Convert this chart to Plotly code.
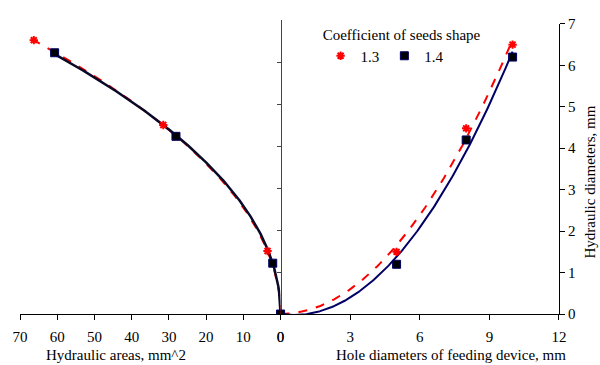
import numpy as np
import plotly.graph_objects as go

# ---- data ----
# Left panel: hydraulic area (mm^2) vs hydraulic diameter (mm)
area_13 = [0, 3.5, 31.5, 66.3]
hd_area_13 = [0, 1.50, 4.50, 6.52]
area_14 = [0, 2.1, 28.1, 60.7]
hd_area_14 = [0, 1.21, 4.23, 6.22]

# Right panel: hole diameter (mm) vs hydraulic diameter (mm)
hole = [0, 5, 8, 10]
hd_hole_13 = [0, 1.50, 4.48, 6.50]
hd_hole_14 = [0, 1.20, 4.20, 6.20]

left_ticks = [70, 60, 50, 40, 30, 20, 10, 0]
right_ticks = [0, 3, 6, 9, 12]
y_ticks = [0, 1, 2, 3, 4, 5, 6, 7]

RED = "#ff0000"
NAVY = "#000066"
DARK = "#0a0a28"
FONT = "Liberation Serif"


def power_fit(xs, ys):
    x = np.array(xs[1:], float)
    y = np.array(ys[1:], float)
    b, loga = np.polyfit(np.log(x), np.log(y), 1)
    a = np.exp(loga)
    xx = np.linspace(0, max(xs), 300)
    return xx, a * xx ** b


def quad_fit0(xs, ys):
    # polynomial trendline (order 2) with intercept fixed at 0
    x = np.array(xs, float)
    y = np.array(ys, float)
    A = np.vstack([x ** 2, x]).T
    (a, b), *_ = np.linalg.lstsq(A, y, rcond=None)
    xx = np.linspace(0, max(xs), 200)
    return xx, a * xx ** 2 + b * xx


fig = go.Figure()

# left panel trendlines
lx, ly = power_fit(area_13, hd_area_13)
fig.add_trace(go.Scatter(x=lx, y=ly, mode="lines", line=dict(color=RED, width=2, dash="dash"),
                         xaxis="x", yaxis="y", showlegend=False, hoverinfo="skip"))
lx, ly = power_fit(area_14, hd_area_14)
fig.add_trace(go.Scatter(x=lx, y=ly, mode="lines", line=dict(color=DARK, width=2.5),
                         xaxis="x", yaxis="y", showlegend=False, hoverinfo="skip"))

# right panel trendlines
rx, ry = quad_fit0(hole, hd_hole_13)
fig.add_trace(go.Scatter(x=rx, y=ry, mode="lines", line=dict(color=RED, width=2, dash="dash"),
                         xaxis="x2", yaxis="y2", showlegend=False, hoverinfo="skip"))
rx, ry = quad_fit0(hole, hd_hole_14)
fig.add_trace(go.Scatter(x=rx, y=ry, mode="lines", line=dict(color=NAVY, width=2),
                         xaxis="x2", yaxis="y2", showlegend=False, hoverinfo="skip"))

m13 = dict(symbol="asterisk-open", size=7, color=RED, line=dict(color=RED, width=2))
m14 = dict(symbol="square", size=8, color="#000000", line=dict(color=NAVY, width=1))

# markers left
fig.add_trace(go.Scatter(x=area_13, y=hd_area_13, mode="markers", marker=m13,
                         xaxis="x", yaxis="y", name="1.3", legendgroup="a"))
fig.add_trace(go.Scatter(x=area_14, y=hd_area_14, mode="markers", marker=m14,
                         xaxis="x", yaxis="y", name="1.4", legendgroup="b"))
# markers right
fig.add_trace(go.Scatter(x=hole, y=hd_hole_13, mode="markers", marker=m13,
                         xaxis="x2", yaxis="y2", name="1.3", showlegend=False, legendgroup="a"))
fig.add_trace(go.Scatter(x=hole, y=hd_hole_14, mode="markers", marker=m14,
                         xaxis="x2", yaxis="y2", name="1.4", showlegend=False, legendgroup="b"))

split = 262 / 542
axis_common = dict(showline=True, linecolor="#000000", linewidth=1, showgrid=False, zeroline=False,
                   ticks="outside", ticklen=5, tickcolor="#000000",
                   tickfont=dict(family=FONT, size=15, color="#000000"))

W, H = 600, 365
l, r, t, b = 17, 41, 14, 51
pw, ph = W - l - r, H - t - b


def ann(text, px, py, angle=0):
    return dict(text=text, x=(px - l) / pw, y=(H - b - py) / ph, xref="paper", yref="paper",
                xanchor="center", yanchor="middle", showarrow=False, textangle=angle,
                font=dict(family=FONT, size=15, color="#000000"))


fig.update_layout(
    width=W, height=H,
    margin=dict(l=l, r=r, t=t, b=b),
    plot_bgcolor="white", paper_bgcolor="white",
    font=dict(family=FONT, size=15, color="#000000"),
    xaxis=dict(domain=[0, split], range=[70, 0], tickvals=left_ticks, anchor="y",
               ticklabelstandoff=4, **axis_common),
    xaxis2=dict(domain=[split, 1], range=[0, 12], tickvals=right_ticks, anchor="y2",
                ticklabelstandoff=4, **axis_common),
    yaxis=dict(domain=[0, 1], range=[0, 7], tickvals=y_ticks, anchor="x", side="right",
               showline=True, linecolor="#444444", linewidth=1, showgrid=False, zeroline=False,
               ticks="inside", ticklen=4, tickcolor="#444444", showticklabels=False),
    yaxis2=dict(domain=[0, 296 / 300], range=[0, 7], tickvals=y_ticks, anchor="x2", side="right",
                **axis_common),
    legend=dict(orientation="h", x=0.708, xanchor="center", y=1.0, yanchor="top",
                bgcolor="rgba(0,0,0,0)",
                title=dict(text="Coefficient of seeds shape", side="top center",
                           font=dict(family=FONT, size=15)),
                font=dict(family=FONT, size=15), itemwidth=30, tracegroupgap=0),
    annotations=[
        ann("Hydraulic areas, mm^2", 114, 356),
        ann("Hole diameters of feeding device, mm", 450, 356),
        ann("Hydraulic diameters, mm", 590, 179, -90),
    ],
)

fig.write_html("out.html")
